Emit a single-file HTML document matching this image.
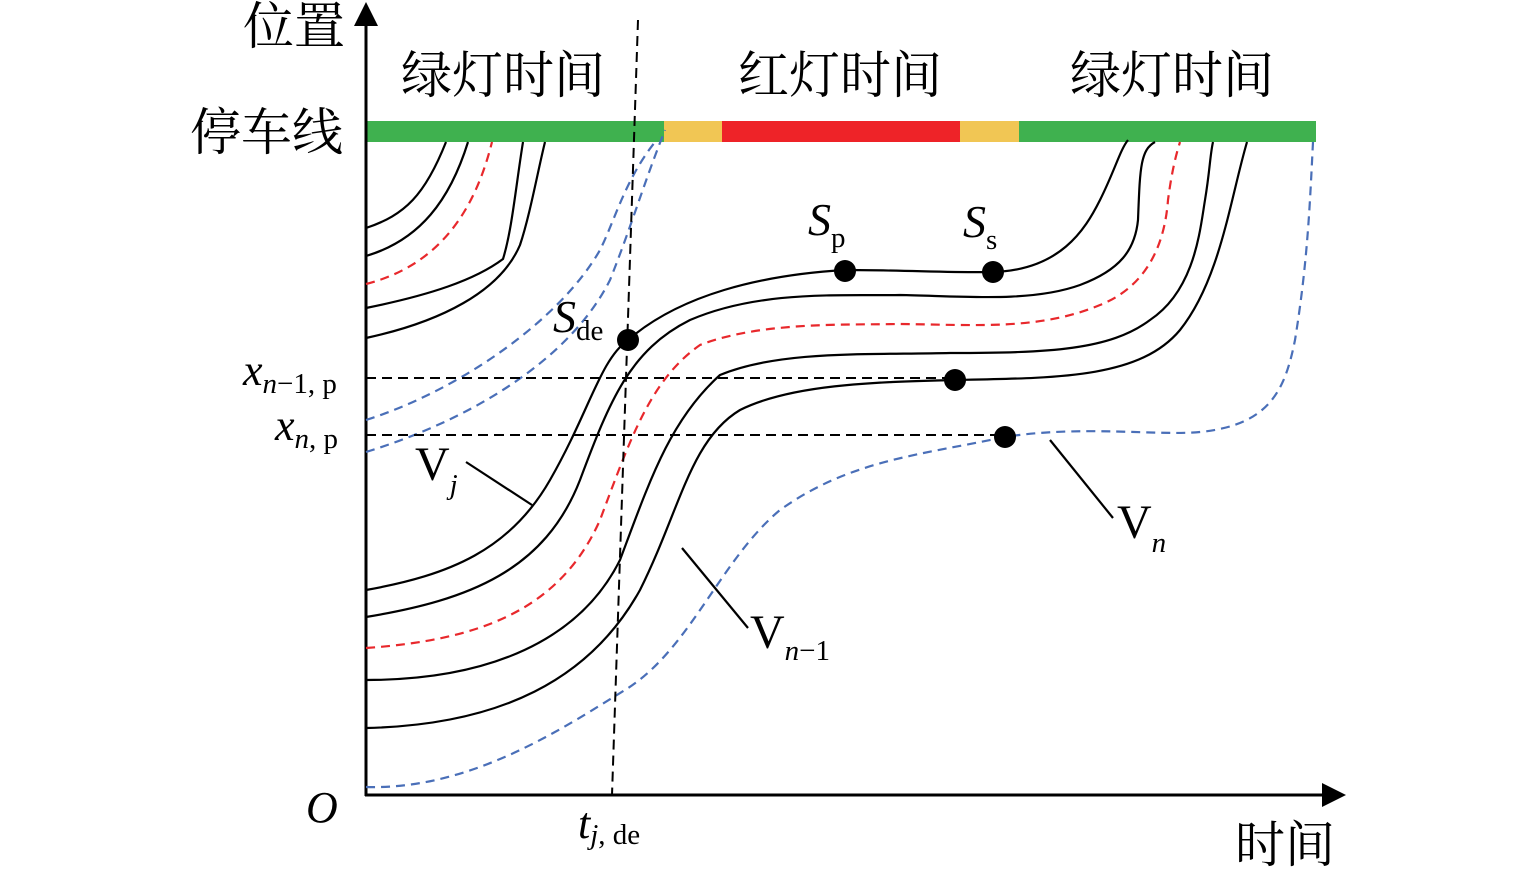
<!DOCTYPE html>
<html><head><meta charset="utf-8"><style>
html,body{margin:0;padding:0;background:#fff}
svg{display:block}
text{font-family:"Liberation Serif","Noto Serif CJK SC",serif;fill:#000}
.cj{font-family:"Liberation Serif","Noto Serif CJK SC","Noto Sans CJK SC",serif}
</style></head><body>
<svg width="1535" height="871" viewBox="0 0 1535 871" xmlns="http://www.w3.org/2000/svg">
<rect x="366" y="121" width="298" height="21" fill="#3fb14f"/>
<rect x="664" y="121" width="58" height="21" fill="#f1c654"/>
<rect x="722" y="121" width="238" height="21" fill="#ee2328"/>
<rect x="960" y="121" width="59" height="21" fill="#f1c654"/>
<rect x="1019" y="121" width="297" height="21" fill="#3fb14f"/>
<line x1="366" y1="796" x2="366" y2="22" stroke="#000" stroke-width="3"/>
<polygon points="366,2 354,26 378,26" fill="#000"/>
<line x1="365" y1="795" x2="1325" y2="795" stroke="#000" stroke-width="3"/>
<polygon points="1346,795 1322,783 1322,807" fill="#000"/>
<g fill="none" stroke-width="2.2">
<path d="M366,228 C405,215 425,195 446,142" stroke="#000"/>
<path d="M366,256 C420,240 450,200 468,142" stroke="#000"/>
<path d="M366,284 C440,265 475,210 492,142" stroke="#e8282c" stroke-dasharray="9,6"/>
<path d="M366,308 C430,295 475,280 503,259 C512,230 516,185 523,142" stroke="#000"/>
<path d="M366,338 C440,322 500,292 520,245 C530,215 538,170 545,142" stroke="#000"/>
<path d="M366,420 C460,390 560,320 600,250 C615,220 625,180 655,142" stroke="#4a6fb8" stroke-dasharray="9,6"/>
<path d="M366,452 C470,420 570,360 610,280 C630,230 645,180 665,130" stroke="#4a6fb8" stroke-dasharray="9,6"/>
<path d="M366,590 C450,575 510,550 550,480 C590,410 600,360 628,340 C680,295 760,275 845,270 C900,270 960,273 993,272 C1060,270 1085,230 1100,200 C1115,170 1120,150 1128,140" stroke="#000"/>
<path d="M366,617 C470,600 545,570 580,480 C610,400 630,350 690,320 C760,290 840,296 900,295 C960,296 1030,303 1080,285 C1120,270 1135,250 1138,220 C1140,170 1140,150 1155,142" stroke="#000"/>
<path d="M366,648 C480,640 560,610 600,520 C630,440 650,380 700,345 C760,322 840,325 900,324 C980,325 1040,330 1100,305 C1150,285 1165,240 1168,200 C1172,170 1176,155 1180,142" stroke="#e8282c" stroke-dasharray="9,6"/>
<path d="M366,680 C490,680 580,640 620,560 C650,480 670,420 720,375 C780,350 870,355 950,353 C1050,353 1110,350 1150,320 C1195,290 1200,230 1205,200 C1210,170 1210,155 1213,142" stroke="#000"/>
<path d="M366,728 C500,725 590,680 640,590 C680,510 690,440 740,410 C790,385 870,382 955,380 C1060,378 1140,378 1180,330 C1220,280 1230,200 1247,142" stroke="#000"/>
<path d="M366,787 C470,790 560,730 625,690 C690,650 720,560 780,510 C850,460 920,455 1005,437 C1080,425 1160,436 1200,432 C1270,425 1285,390 1295,340 C1308,260 1310,200 1313,142" stroke="#4a6fb8" stroke-dasharray="9,6"/>
<g stroke="#000" stroke-dasharray="10,6" stroke-width="2">
<line x1="638" y1="20" x2="612" y2="795"/>
<line x1="366" y1="378" x2="955" y2="378"/>
<line x1="366" y1="435" x2="1005" y2="435"/>
</g>
<g stroke="#000" stroke-width="2.2">
<line x1="466" y1="462" x2="532" y2="505"/>
<line x1="682" y1="548" x2="748" y2="628"/>
<line x1="1050" y1="440" x2="1113" y2="518"/>
</g>
</g>
<g fill="#000">
<circle cx="628" cy="340" r="11"/>
<circle cx="845" cy="271" r="11"/>
<circle cx="993" cy="272" r="11"/>
<circle cx="955" cy="380" r="11"/>
<circle cx="1005" cy="437" r="11"/>
</g>
<text class="cj" x="243" y="44" font-size="51">位置</text>
<text class="cj" x="190" y="150" font-size="51">停车线</text>
<text class="cj" x="503" y="93" font-size="51" text-anchor="middle">绿灯时间</text>
<text class="cj" x="840" y="93" font-size="51" text-anchor="middle">红灯时间</text>
<text class="cj" x="1172" y="93" font-size="51" text-anchor="middle">绿灯时间</text>
<text class="cj" x="1235" y="862" font-size="50">时间</text>
<text x="306" y="822" font-size="44" font-style="italic">O</text>
<text x="808" y="235" font-size="46" font-style="italic">S<tspan font-size="29" font-style="normal" dy="12">p</tspan></text>
<text x="963" y="237" font-size="46" font-style="italic">S<tspan font-size="29" font-style="normal" dy="12">s</tspan></text>
<text x="553" y="332" font-size="46" font-style="italic">S<tspan font-size="29" font-style="normal" dy="8">de</tspan></text>
<text x="243" y="385" font-size="44" font-style="italic">x<tspan font-size="29" dy="8">n</tspan><tspan font-size="29" font-style="normal">−1, p</tspan></text>
<text x="275" y="440" font-size="44" font-style="italic">x<tspan font-size="29" dy="8">n</tspan><tspan font-size="29" font-style="normal">, p</tspan></text>
<text x="415" y="480" font-size="48">V<tspan font-size="29" font-style="italic" dy="14">j</tspan></text>
<text x="750" y="648" font-size="48">V<tspan font-size="29" font-style="italic" dy="12">n</tspan><tspan font-size="29">−1</tspan></text>
<text x="1117" y="538" font-size="48">V<tspan font-size="29" font-style="italic" dy="14">n</tspan></text>
<text x="578" y="838" font-size="44" font-style="italic">t<tspan font-size="29" dy="6">j</tspan><tspan font-size="29" font-style="normal">, de</tspan></text>
</svg>
</body></html>
